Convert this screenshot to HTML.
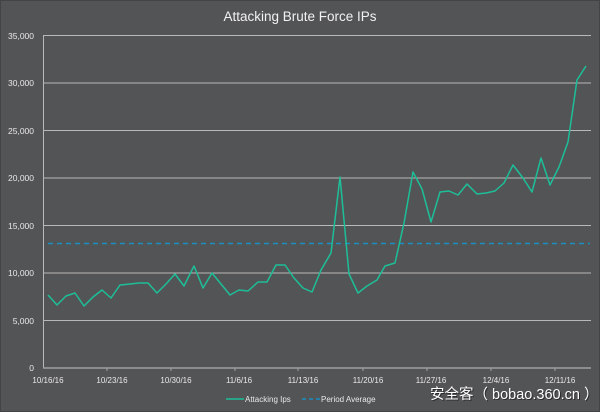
<!DOCTYPE html>
<html><head><meta charset="utf-8"><style>
body{margin:0;background:#535456;}
svg{display:block;font-family:"Liberation Sans","Noto Sans CJK SC",sans-serif;}
</style></head><body>
<svg width="600" height="412" viewBox="0 0 600 412">
<rect x="0.5" y="0.5" width="599" height="411" fill="#535456" stroke="#444" />
<text x="300" y="21" fill="#f2f2f2" font-size="13.5" text-anchor="middle">Attacking Brute Force IPs</text>
<g stroke="#b8b8b8" stroke-width="1">
<line x1="43" x2="591" y1="35.5" y2="35.5"/><line x1="43" x2="591" y1="83" y2="83"/>
<line x1="43" x2="591" y1="130.5" y2="130.5"/><line x1="43" x2="591" y1="178" y2="178"/>
<line x1="43" x2="591" y1="225.5" y2="225.5"/><line x1="43" x2="591" y1="273" y2="273"/>
<line x1="43" x2="591" y1="320.5" y2="320.5"/>
<line x1="43.5" x2="43.5" y1="35" y2="368"/>
</g>
<line x1="43" x2="591" y1="368" y2="368" stroke="#a0a0a0" stroke-width="1.5"/>
<g stroke="#a0a0a0"><line x1="107" x2="107" y1="368" y2="371"/><line x1="171" x2="171" y1="368" y2="371"/><line x1="235" x2="235" y1="368" y2="371"/><line x1="298" x2="298" y1="368" y2="371"/><line x1="363" x2="363" y1="368" y2="371"/><line x1="427" x2="427" y1="368" y2="371"/><line x1="491" x2="491" y1="368" y2="371"/><line x1="555" x2="555" y1="368" y2="371"/></g>
<g fill="#e8e8e8" font-size="8.5" text-anchor="end">
<text x="34" y="39">35,000</text><text x="34" y="86">30,000</text><text x="34" y="134">25,000</text><text x="34" y="181">20,000</text><text x="34" y="229">15,000</text><text x="34" y="276">10,000</text><text x="34" y="324">5,000</text><text x="34" y="371">0</text>
</g>
<g fill="#e8e8e8" font-size="8" text-anchor="middle">
<text x="48" y="383">10/16/16</text><text x="112" y="383">10/23/16</text><text x="176" y="383">10/30/16</text><text x="239" y="383">11/6/16</text><text x="303" y="383">11/13/16</text><text x="368" y="383">11/20/16</text><text x="431" y="383">11/27/16</text><text x="496" y="383">12/4/16</text><text x="560" y="383">12/11/16</text>
</g>
<line x1="48" x2="590" y1="243.5" y2="243.5" stroke="#1a8fc0" stroke-width="1.5" stroke-dasharray="5,4"/>
<polyline fill="none" stroke="#1dbf98" stroke-width="1.5" stroke-linejoin="round" points="48,295 57,305 66,296 75,293 84,306 93,297 102,290 111,298 120,285 130,284 139,283 148,283 157,293 166,284 175,274 184,286 194,266 203,288 212,273 221,284 230,295 239,290 248,291 258,282 267,282 276,265 285,265 294,278 303,288 312,292 321,270 331,253 340,177 349,274 358,293 367,286 377,280 385,266 395,263 404,223 413,172 422,189 431,222 440,192 449,191 458,195 467,184 477,194 486,193 495,191 504,183 513,165 523,178 532,192 541,158 550,185 559,167 568,142 577,80 586,66"/>
<line x1="226" x2="244" y1="399" y2="399" stroke="#1dbf98" stroke-width="1.5"/>
<text x="245" y="402" fill="#e8e8e8" font-size="8">Attacking Ips</text>
<line x1="302" x2="320" y1="399" y2="399" stroke="#1a8fc0" stroke-width="1.5" stroke-dasharray="4,3"/>
<text x="321" y="402" fill="#e8e8e8" font-size="8">Period Average</text>
<text x="431" y="400" fill="#222" font-size="14.5" opacity="0.8">安全客（ bobao.360.cn ）</text>
<text x="430" y="399" fill="#ffffff" font-size="14.5">安全客（ bobao.360.cn ）</text>
</svg>
</body></html>
